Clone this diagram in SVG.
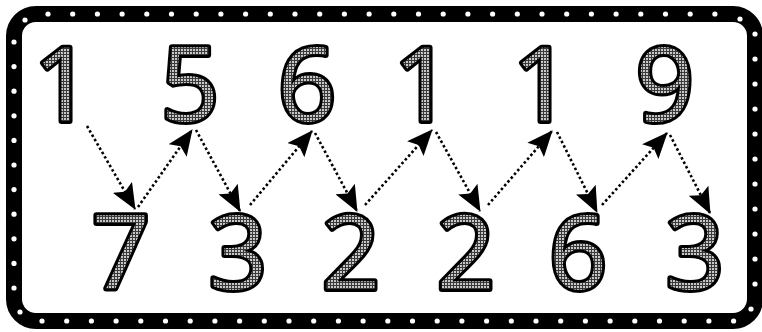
<svg xmlns="http://www.w3.org/2000/svg" width="762" height="332" viewBox="0 0 762 332">
<defs>
<pattern id="grid" width="3" height="3" patternUnits="userSpaceOnUse">
<rect width="3" height="3" fill="#c8c8c8"/>
<path d="M0,0.5H3M0.5,0V3" stroke="#3a3a3a" stroke-width="1"/>
</pattern>
<marker id="ah" viewBox="0 0 26 22" markerWidth="26" markerHeight="22" refX="25" refY="11" orient="auto" markerUnits="userSpaceOnUse">
<path d="M0,0 L26,11 L0,22 L5,11 Z" fill="#000"/>
</marker>
</defs>
<style>
.d{font-family:"Open Sans","DejaVu Sans",sans-serif;font-weight:400;font-size:102px;text-anchor:middle;fill:url(#grid);stroke:#000;stroke-width:6;stroke-linejoin:round;paint-order:stroke}
.a{stroke:#000;stroke-width:2.6;stroke-dasharray:2.5 2.5;fill:none;marker-end:url(#ah)}
.dot{fill:#fff}
</style>
<rect width="762" height="332" fill="#fff"/>
<g id="frame">
<rect x="14" y="14" width="741" height="307" rx="22" fill="#fff" stroke="#000" stroke-width="16"/>
<g class="dot">
<circle cx="48" cy="14" r="2.6"/><circle cx="72.7" cy="14" r="2.6"/><circle cx="97.4" cy="14" r="2.6"/><circle cx="122.1" cy="14" r="2.6"/><circle cx="146.8" cy="14" r="2.6"/><circle cx="171.5" cy="14" r="2.6"/><circle cx="196.2" cy="14" r="2.6"/><circle cx="220.9" cy="14" r="2.6"/><circle cx="245.6" cy="14" r="2.6"/><circle cx="270.3" cy="14" r="2.6"/><circle cx="295" cy="14" r="2.6"/><circle cx="319.7" cy="14" r="2.6"/><circle cx="344.4" cy="14" r="2.6"/><circle cx="369.1" cy="14" r="2.6"/><circle cx="393.8" cy="14" r="2.6"/><circle cx="418.5" cy="14" r="2.6"/><circle cx="443.2" cy="14" r="2.6"/><circle cx="467.9" cy="14" r="2.6"/><circle cx="492.6" cy="14" r="2.6"/><circle cx="517.3" cy="14" r="2.6"/><circle cx="542" cy="14" r="2.6"/><circle cx="566.7" cy="14" r="2.6"/><circle cx="591.4" cy="14" r="2.6"/><circle cx="616.1" cy="14" r="2.6"/><circle cx="640.8" cy="14" r="2.6"/><circle cx="665.5" cy="14" r="2.6"/><circle cx="690.2" cy="14" r="2.6"/><circle cx="714.9" cy="14" r="2.6"/>
<circle cx="25" cy="20" r="2.6"/><circle cx="740" cy="19" r="2.6"/><circle cx="20" cy="312" r="2.6"/><circle cx="751" cy="309" r="2.6"/>
<circle cx="14" cy="42" r="2.6"/><circle cx="14" cy="66.6" r="2.6"/><circle cx="14" cy="91.2" r="2.6"/><circle cx="14" cy="115.8" r="2.6"/><circle cx="14" cy="140.4" r="2.6"/><circle cx="14" cy="165" r="2.6"/><circle cx="14" cy="189.6" r="2.6"/><circle cx="14" cy="214.2" r="2.6"/><circle cx="14" cy="238.8" r="2.6"/><circle cx="14" cy="263.4" r="2.6"/><circle cx="14" cy="288" r="2.6"/>
<circle cx="755" cy="34" r="2.6"/><circle cx="755" cy="59" r="2.6"/><circle cx="755" cy="84" r="2.6"/><circle cx="755" cy="109" r="2.6"/><circle cx="755" cy="134" r="2.6"/><circle cx="755" cy="159" r="2.6"/><circle cx="755" cy="184" r="2.6"/><circle cx="755" cy="209" r="2.6"/><circle cx="755" cy="234" r="2.6"/><circle cx="755" cy="259" r="2.6"/><circle cx="755" cy="284" r="2.6"/>
<circle cx="42" cy="321" r="2.6"/><circle cx="66.7" cy="321" r="2.6"/><circle cx="91.4" cy="321" r="2.6"/><circle cx="116.1" cy="321" r="2.6"/><circle cx="140.8" cy="321" r="2.6"/><circle cx="165.5" cy="321" r="2.6"/><circle cx="190.2" cy="321" r="2.6"/><circle cx="214.9" cy="321" r="2.6"/><circle cx="239.6" cy="321" r="2.6"/><circle cx="264.3" cy="321" r="2.6"/><circle cx="289" cy="321" r="2.6"/><circle cx="313.7" cy="321" r="2.6"/><circle cx="338.4" cy="321" r="2.6"/><circle cx="363.1" cy="321" r="2.6"/><circle cx="387.8" cy="321" r="2.6"/><circle cx="412.5" cy="321" r="2.6"/><circle cx="437.2" cy="321" r="2.6"/><circle cx="461.9" cy="321" r="2.6"/><circle cx="486.6" cy="321" r="2.6"/><circle cx="511.3" cy="321" r="2.6"/><circle cx="536" cy="321" r="2.6"/><circle cx="560.7" cy="321" r="2.6"/><circle cx="585.4" cy="321" r="2.6"/><circle cx="610.1" cy="321" r="2.6"/><circle cx="634.8" cy="321" r="2.6"/><circle cx="659.5" cy="321" r="2.6"/><circle cx="684.2" cy="321" r="2.6"/><circle cx="708.9" cy="321" r="2.6"/><circle cx="733.6" cy="321" r="2.6"/>
</g>
</g>
<g id="top-row">
<g id="t1"><text class="d" x="63" y="121">1</text></g>
<g id="t2"><text class="d" x="190" y="121">5</text></g>
<g id="t3"><text class="d" x="307" y="121">6</text></g>
<g id="t4"><text class="d" x="423" y="121">1</text></g>
<g id="t5"><text class="d" x="542" y="121">1</text></g>
<g id="t6"><text class="d" x="665" y="121">9</text></g>
</g>
<g id="bottom-row">
<g id="b1"><text class="d" x="121" y="289">7</text></g>
<g id="b2"><text class="d" x="238" y="289">3</text></g>
<g id="b3"><text class="d" x="351" y="289">2</text></g>
<g id="b4"><text class="d" x="466" y="289">2</text></g>
<g id="b5"><text class="d" x="578" y="289">6</text></g>
<g id="b6"><text class="d" x="695" y="289">3</text></g>
</g>
<g id="connectors">
<line class="a" x1="87" y1="126" x2="135" y2="209"/>
<line class="a" x1="138" y1="207" x2="192" y2="130"/>
<line class="a" x1="196" y1="130" x2="240" y2="211"/>
<line class="a" x1="250" y1="205" x2="312" y2="131"/>
<line class="a" x1="315" y1="133" x2="357" y2="211"/>
<line class="a" x1="365" y1="205" x2="432" y2="130"/>
<line class="a" x1="436" y1="132" x2="480" y2="211"/>
<line class="a" x1="488" y1="205" x2="552" y2="131"/>
<line class="a" x1="557" y1="132" x2="597" y2="212"/>
<line class="a" x1="602" y1="205" x2="667" y2="133"/>
<line class="a" x1="670" y1="135" x2="710" y2="213"/>
</g>
</svg>
